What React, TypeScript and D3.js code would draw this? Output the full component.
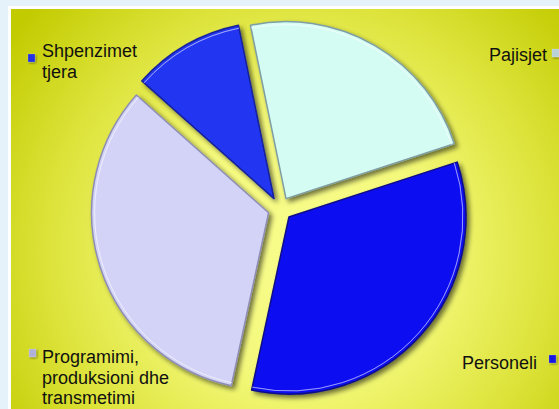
import React from "react";
import * as d3 from "d3";

const categories = ["Pajisjet", "Personeli", "Programimi, produksioni dhe transmetimi", "Shpenzimet tjera"];
const values = [23.2, 33.4, 33.2, 10.2];
const fills = ["#d5fcf3", "#0e0ef2", "#d3d3f8", "#2236f0"];
const edges = ["#7f9ea4", "#0a0a8a", "#8e8eb4", "#14209a"];

const W = 559;
const H = 409;
const cx = 280;
const cy = 209;
const R = 177;
const explode = 12;
const startDeg = -11.6;

export default function App() {
  const pie = d3
    .pie<number>()
    .sort(null)
    .value((d) => d)
    .startAngle((startDeg * Math.PI) / 180)
    .endAngle((startDeg * Math.PI) / 180 + 2 * Math.PI);
  const arcs = pie(values);
  const arcGen = d3.arc<d3.PieArcDatum<number>>().innerRadius(0).outerRadius(R);
  const hiGen = d3.arc<d3.PieArcDatum<number>>().innerRadius(R - 3).outerRadius(R - 3);

  const legend = [
    { lines: ["Shpenzimet", "tjera"], x: 42, y: 57, mx: 28, my: 54, anchor: "start", idx: 3 },
    { lines: ["Pajisjet"], x: 547, y: 61, mx: 552, my: 49, anchor: "end", idx: 0 },
    { lines: ["Personeli"], x: 537, y: 369, mx: 549, my: 355, anchor: "end", idx: 1 },
    { lines: ["Programimi,", "produksioni dhe", "transmetimi"], x: 42, y: 363, mx: 29, my: 349, anchor: "start", idx: 2 },
  ];
  const markerFill = ["#b8d0d8", "#1414e0", "#b0b0d8", "#2030e0"];

  return (
    <svg
      width={W}
      height={H}
      style={{ position: "absolute", left: 0, top: 0 }}
      fontFamily="'Liberation Sans', Arial, sans-serif"
    >
      <defs>
        <radialGradient id="bg" gradientUnits="userSpaceOnUse" cx={300} cy={250} r={360}>
          <stop offset="0" stopColor="#f8fc8c" />
          <stop offset="0.35" stopColor="#f4f97c" />
          <stop offset="0.7" stopColor="#dde33a" />
          <stop offset="1" stopColor="#c2cb00" />
        </radialGradient>
        <filter id="sh" x="-20%" y="-20%" width="140%" height="140%">
          <feGaussianBlur in="SourceAlpha" stdDeviation="2.5" />
          <feOffset dx="3" dy="3" result="b" />
          <feComponentTransfer>
            <feFuncA type="linear" slope="0.55" />
          </feComponentTransfer>
          <feMerge>
            <feMergeNode />
            <feMergeNode in="SourceGraphic" />
          </feMerge>
        </filter>
        <filter id="msh" x="-50%" y="-50%" width="200%" height="200%">
          <feGaussianBlur in="SourceAlpha" stdDeviation="1" />
          <feOffset dx="1" dy="1" />
          <feComponentTransfer>
            <feFuncA type="linear" slope="0.5" />
          </feComponentTransfer>
          <feMerge>
            <feMergeNode />
            <feMergeNode in="SourceGraphic" />
          </feMerge>
        </filter>
      </defs>
      <rect x={0} y={0} width={W} height={H} fill="#e5f2fa" />
      <rect x={8} y={6} width={W} height={H} fill="#ffffff" />
      <rect x={11} y={9} width={W} height={H} fill="url(#bg)" />
      {arcs.map((a, i) => {
        const mid = (a.startAngle + a.endAngle) / 2;
        const dx = Math.sin(mid) * explode;
        const dy = -Math.cos(mid) * explode;
        return (
          <g key={i} transform={`translate(${cx + dx},${cy + dy})`}>
            <path d={arcGen(a) || ""} fill={fills[i]} stroke={edges[i]} strokeWidth={1.5} strokeLinejoin="round" filter="url(#sh)" />
            <path d={hiGen(a) || ""} fill="none" stroke="#ffffff" strokeOpacity={0.35} strokeWidth={1} />
          </g>
        );
      })}
      {legend.map((l, i) => (
        <g key={i}>
          <rect x={l.mx} y={l.my} width={7} height={8} fill={markerFill[l.idx]} stroke="#ffffff" strokeOpacity={0.3} strokeWidth={0.6} filter="url(#msh)" />
          <text x={l.x} y={l.y} fontSize={18} fill="#111111" textAnchor={l.anchor as any}>
            {l.lines.map((t, j) => (
              <tspan key={j} x={l.x} dy={j === 0 ? 0 : 20.5}>
                {t}
              </tspan>
            ))}
          </text>
        </g>
      ))}
    </svg>
  );
}
